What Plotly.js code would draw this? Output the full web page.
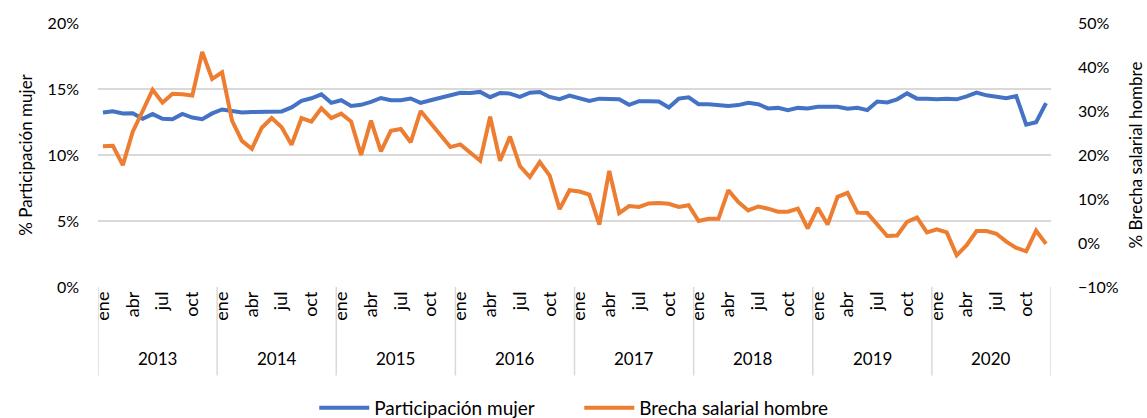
<!DOCTYPE html>
<html>
<head>
<meta charset="utf-8">
<script src="https://cdn.plot.ly/plotly-3.0.1.min.js"></script>
<style>html,body{margin:0;padding:0;background:#fff;}#chart{width:1147px;height:418px;}</style>
</head>
<body>
<div id="chart"></div>
<script>
var years = ['2013','2014','2015','2016','2017','2018','2019','2020'];
var monthNames = ['ene','feb','mar','abr','may','jun','jul','ago','sep','oct','nov','dic'];
var shownMonths = ['ene','abr','jul','oct'];

// % Participación mujer (left axis, %)
var participacionMujer = [
  13.22,13.32,13.15,13.17,12.74,13.10,12.74,12.71,13.11,12.84,12.71,13.15,
  13.45,13.30,13.22,13.25,13.27,13.30,13.30,13.60,14.10,14.30,14.60,13.95,
  14.15,13.72,13.80,14.03,14.32,14.15,14.15,14.28,13.95,14.15,14.35,14.55,
  14.72,14.70,14.78,14.38,14.70,14.65,14.40,14.72,14.77,14.40,14.23,14.50,
  14.30,14.10,14.27,14.27,14.23,13.80,14.08,14.07,14.05,13.60,14.27,14.37,
  13.85,13.85,13.77,13.72,13.78,13.95,13.85,13.53,13.57,13.40,13.57,13.52,
  13.65,13.68,13.65,13.50,13.58,13.40,14.05,13.98,14.22,14.67,14.27,14.27,
  14.22,14.27,14.22,14.44,14.73,14.52,14.44,14.30,14.47,12.30,12.48,13.93
];

// % Brecha salarial hombre (right axis, %)
var brechaSalarial = [
  22.0,22.1,17.7,25.3,30.0,34.8,31.9,33.9,33.8,33.5,43.4,37.3,
  38.8,27.8,23.2,21.4,26.2,28.4,26.3,22.3,28.4,27.6,30.6,28.4,
  29.4,27.6,20.0,27.8,20.8,25.5,25.9,22.9,30.0,27.2,24.5,21.8,
  22.4,20.5,18.7,28.7,18.7,24.2,17.5,15.0,18.4,15.3,7.7,12.0,
  11.7,11.0,4.2,16.4,6.8,8.4,8.2,9.0,9.1,8.9,8.2,8.6,
  5.0,5.5,5.5,12.0,9.3,7.4,8.3,7.8,7.1,7.1,7.8,3.3,
  8.0,4.2,10.5,11.4,6.9,6.8,4.3,1.6,1.7,4.8,5.8,2.4,
  3.1,2.4,-2.8,-0.5,2.7,2.7,2.1,0.3,-1.1,-1.9,2.8,-0.2
];

var xIdx = [], tickvals = [], ticktext = [];
for (var y = 0; y < years.length; y++) {
  for (var m = 0; m < monthNames.length; m++) {
    var i = y * 12 + m;
    xIdx.push(i);
    if (shownMonths.indexOf(monthNames[m]) >= 0) { tickvals.push(i); ticktext.push(monthNames[m]); }
  }
}

var FONT = 'Lato, "Open Sans", sans-serif';
var TXT = '#000';

var shapes = [], annotations = [];
for (var k = 0; k <= years.length; k++) {
  shapes.push({type:'line', xref:'x', yref:'paper', x0:k*12-0.5, x1:k*12-0.5, y0:0, y1:-0.335,
    line:{color:'#d9d9d9', width:1.5}});
}
for (var k2 = 0; k2 < years.length; k2++) {
  annotations.push({xref:'x', yref:'paper', x:k2*12+5.5, y:-0.272, text:years[k2], showarrow:false,
    font:{family:FONT, size:17, color:TXT}, xanchor:'center', yanchor:'middle'});
}

var traces = [
  {x:xIdx, y:participacionMujer, name:'Participación mujer', type:'scatter', mode:'lines',
   line:{color:'#4472C4', width:4}, yaxis:'y'},
  {x:xIdx, y:brechaSalarial, name:'Brecha salarial hombre', type:'scatter', mode:'lines',
   line:{color:'#ED7D31', width:4}, yaxis:'y2'}
];

var layout = {
  width:1147, height:418,
  margin:{l:98, r:96, t:23, b:131, autoexpand:false},
  paper_bgcolor:'#fff', plot_bgcolor:'#fff',
  font:{family:FONT, size:16, color:TXT},
  showlegend:true,
  legend:{orientation:'h', x:0.505, xanchor:'center', y:-0.458, yanchor:'middle',
    font:{family:FONT, size:19, color:TXT}, itemwidth:50, entrywidth:200, entrywidthmode:'pixels'},
  xaxis:{range:[-0.5, 95.5], tickvals:tickvals, ticktext:ticktext, tickangle:-90,
    showgrid:false, zeroline:false, showline:false, ticks:'', fixedrange:true,
    tickfont:{family:FONT, size:18, color:TXT}},
  yaxis:{range:[0,20], dtick:5, ticksuffix:'%', showgrid:true, gridcolor:'#d9d9d9', gridwidth:1.5,
    zeroline:false, showline:false, ticks:'', ticklabelstandoff:18, tickfont:{family:FONT, size:16, color:TXT},
    title:{text:'% Participación mujer', font:{family:FONT, size:17, color:TXT}, standoff:10}},
  yaxis2:{range:[-10,50], dtick:10, ticksuffix:'%', overlaying:'y', side:'right', showgrid:false,
    zeroline:false, showline:false, ticks:'', ticklabelstandoff:26, tickfont:{family:FONT, size:16, color:TXT},
    title:{text:'% Brecha salarial hombre', font:{family:FONT, size:17, color:TXT}, standoff:12}},
  shapes:shapes,
  annotations:annotations
};

Plotly.newPlot('chart', traces, layout, {displayModeBar:false, staticPlot:true});
</script>
</body>
</html>
